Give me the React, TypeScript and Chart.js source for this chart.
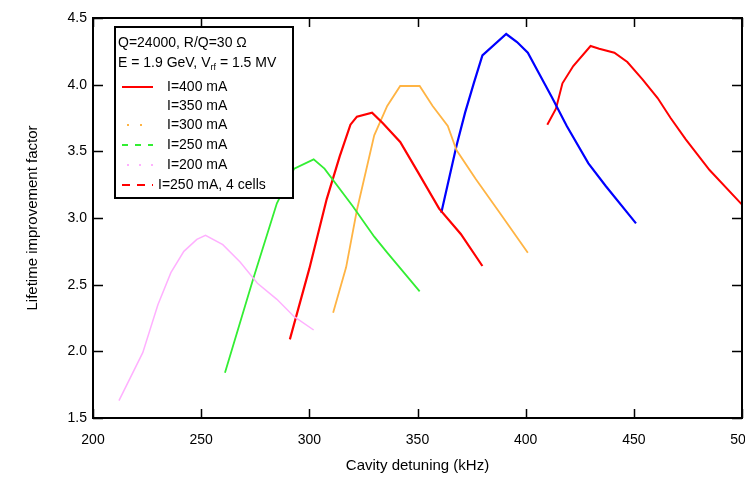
import React, { useEffect, useRef } from "react";
import { Chart, registerables } from "chart.js";

Chart.register(...registerables);

// ---- data ----
const xTickValues = [200, 250, 300, 350, 400, 450, 500];
const yTickValues = [1.5, 2.0, 2.5, 3.0, 3.5, 4.0, 4.5];

const pinkDetuning = [212, 223, 230, 236, 242, 248, 252, 260, 268, 276, 285, 293, 302];
const pinkFactor = [1.63, 1.99, 2.35, 2.59, 2.75, 2.84, 2.87, 2.8, 2.67, 2.51, 2.39, 2.26, 2.16];

const greenDetuning = [261, 274, 285, 293, 302, 307, 320, 330, 336, 351];
const greenFactor = [1.84, 2.54, 3.11, 3.37, 3.44, 3.37, 3.09, 2.86, 2.74, 2.45];

const redMidDetuning = [291, 300, 308, 314, 319, 322, 329, 334, 342, 350, 360, 370, 380];
const redMidFactor = [2.09, 2.62, 3.14, 3.46, 3.7, 3.76, 3.79, 3.71, 3.57, 3.35, 3.07, 2.88, 2.64];

const orangeDetuning = [311, 317, 322, 330, 336, 342, 351, 357, 364, 368, 377, 388, 401];
const orangeFactor = [2.29, 2.63, 3.06, 3.62, 3.84, 3.99, 3.99, 3.84, 3.69, 3.51, 3.29, 3.04, 2.74];

const blueDetuning = [361, 368, 372, 376, 380, 391, 396, 401, 406, 412, 419, 429, 437, 451];
const blueFactor = [3.04, 3.54, 3.79, 4.01, 4.22, 4.38, 4.32, 4.24, 4.09, 3.91, 3.69, 3.41, 3.24, 2.96];

const redRightDetuning = [410, 414, 417, 422, 430, 434, 441, 447, 454, 461, 467, 474, 485, 500];
const redRightFactor = [3.7, 3.82, 4.01, 4.14, 4.29, 4.27, 4.24, 4.17, 4.04, 3.9, 3.75, 3.59, 3.36, 3.1];

const seriesLabels = [
  "I=400 mA",
  "I=350 mA",
  "I=300 mA",
  "I=250 mA",
  "I=200 mA",
  "I=250 mA, 4 cells",
];
const headerLine1 = "Q=24000, R/Q=30 \u03A9";
const headerLine2a = "E = 1.9 GeV, V";
const headerLine2sub = "rf";
const headerLine2b = " = 1.5 MV";
const xTitle = "Cavity detuning (kHz)";
const yTitle = "Lifetime improvement factor";

const FONT = "'Liberation Sans', Arial, Helvetica, sans-serif";

const pts = (xs: number[], ys: number[]) => xs.map((x, i) => ({ x, y: ys[i] }));

// legend sample styles (order matches seriesLabels)
const legendSamples = [
  { color: "#ff0000", dash: [] as number[], width: 2, show: true },
  { color: "#0000ff", dash: [] as number[], width: 2, show: false },
  { color: "#ffb444", dash: [2, 11], width: 2, show: true },
  { color: "#33ee33", dash: [6, 7], width: 2, show: true },
  { color: "#ffb0ff", dash: [2, 10], width: 2, show: true },
  { color: "#ff0000", dash: [8, 7], width: 2, show: true },
];

const framePlugin = {
  id: "frame",
  afterDatasetsDraw(chart: any) {
    const { ctx, chartArea } = chart;
    const { left, right, top, bottom } = chartArea;
    const xs = chart.scales.x;
    const ys = chart.scales.y;
    ctx.save();
    ctx.strokeStyle = "#000";
    ctx.lineWidth = 2;
    ctx.strokeRect(left, top, right - left, bottom - top);
    ctx.lineWidth = 1.5;
    ctx.beginPath();
    xTickValues.forEach((v) => {
      const px = Math.round(xs.getPixelForValue(v)) + 0.5;
      ctx.moveTo(px, bottom);
      ctx.lineTo(px, bottom - 9);
      ctx.moveTo(px, top);
      ctx.lineTo(px, top + 9);
    });
    yTickValues.forEach((v) => {
      const py = Math.round(ys.getPixelForValue(v)) + 0.5;
      ctx.moveTo(left, py);
      ctx.lineTo(left + 10, py);
      ctx.moveTo(right, py);
      ctx.lineTo(right - 10, py);
    });
    ctx.stroke();
    ctx.restore();
  },
};

const legendPlugin = {
  id: "customLegend",
  afterDraw(chart: any) {
    const { ctx } = chart;
    const bx = 115, by = 27, bw = 178, bh = 171;
    ctx.save();
    ctx.fillStyle = "#fff";
    ctx.fillRect(bx, by, bw, bh);
    ctx.strokeStyle = "#000";
    ctx.lineWidth = 2;
    ctx.strokeRect(bx, by, bw, bh);

    ctx.fillStyle = "#000";
    ctx.textBaseline = "middle";
    ctx.textAlign = "left";
    ctx.font = `14px ${FONT}`;
    ctx.fillText(headerLine1, 118, 43);
    let x = 118;
    ctx.fillText(headerLine2a, x, 63);
    x += ctx.measureText(headerLine2a).width;
    ctx.font = `9px ${FONT}`;
    ctx.fillText(headerLine2sub, x, 68);
    x += ctx.measureText(headerLine2sub).width;
    ctx.font = `14px ${FONT}`;
    ctx.fillText(headerLine2b, x, 63);

    const rowsY = [87, 106, 125, 145, 165, 185];
    seriesLabels.forEach((lab, i) => {
      const y = rowsY[i];
      const s = legendSamples[i];
      if (s.show) {
        ctx.save();
        ctx.strokeStyle = s.color;
        ctx.lineWidth = s.width;
        ctx.setLineDash(s.dash);
        ctx.beginPath();
        const sx = s.dash.length && s.dash[0] <= 2 ? 127 : 122;
        ctx.moveTo(sx, y);
        ctx.lineTo(153, y);
        ctx.stroke();
        ctx.restore();
      }
      ctx.fillStyle = "#000";
      ctx.fillText(lab, i === 5 ? 158 : 167, y);
    });
    ctx.restore();
  },
};

export default function App() {
  const ref = useRef<HTMLCanvasElement | null>(null);
  useEffect(() => {
    if (!ref.current) return;
    Chart.defaults.font.family = FONT;
    Chart.defaults.color = "#000";
    const chart = new Chart(ref.current, {
      type: "line",
      data: {
        datasets: [
          { label: seriesLabels[4], data: pts(pinkDetuning, pinkFactor), borderColor: "#ffb0ff", borderWidth: 1.5 },
          { label: seriesLabels[3], data: pts(greenDetuning, greenFactor), borderColor: "#33ee33", borderWidth: 1.8 },
          { label: seriesLabels[5], data: pts(redMidDetuning, redMidFactor), borderColor: "#ff0000", borderWidth: 2.2 },
          { label: seriesLabels[2], data: pts(orangeDetuning, orangeFactor), borderColor: "#ffb444", borderWidth: 1.8 },
          { label: seriesLabels[1], data: pts(blueDetuning, blueFactor), borderColor: "#0000ff", borderWidth: 2.2 },
          { label: seriesLabels[0], data: pts(redRightDetuning, redRightFactor), borderColor: "#ff0000", borderWidth: 2 },
        ].map((d) => ({ ...d, pointRadius: 0, fill: false, tension: 0 })),
      },
      options: {
        responsive: false,
        animation: false,
        devicePixelRatio: 1,
        layout: { padding: { left: 0, top: 18, right: 3, bottom: 0 } },
        plugins: { legend: { display: false }, tooltip: { enabled: false } },
        scales: {
          x: {
            type: "linear",
            min: 200,
            max: 500,
            grid: { display: false, drawTicks: false },
            border: { display: false },
            ticks: {
              stepSize: 50,
              padding: 14,
              maxRotation: 0,
              autoSkip: false,
              font: { size: 14 },
              color: "#000",
            },
            title: {
              display: true,
              text: xTitle,
              font: { size: 15 },
              color: "#000",
              padding: { top: 0, bottom: 9 },
            },
            afterFit(scale: any) {
              scale.height = 66;
              scale.paddingLeft = 0;
              scale.paddingRight = 0;
            },
          },
          y: {
            type: "linear",
            min: 1.5,
            max: 4.5,
            grid: { display: false, drawTicks: false },
            border: { display: false },
            ticks: {
              stepSize: 0.5,
              padding: 6,
              font: { size: 14 },
              color: "#000",
              callback: (v: any) => Number(v).toFixed(1),
            },
            title: {
              display: true,
              text: yTitle,
              font: { size: 15 },
              color: "#000",
              padding: { top: 24, bottom: 0 },
            },
            afterFit(scale: any) {
              scale.width = 93;
              scale.paddingTop = 0;
              scale.paddingBottom = 0;
            },
          },
        },
      },
      plugins: [framePlugin, legendPlugin],
    } as any);
    return () => chart.destroy();
  }, []);
  return (
    <div style={{ position: "fixed", left: 0, top: 0, width: 745, height: 484, background: "#fff" }}>
      <canvas ref={ref} width={745} height={484} style={{ width: 745, height: 484 }} />
    </div>
  );
}
